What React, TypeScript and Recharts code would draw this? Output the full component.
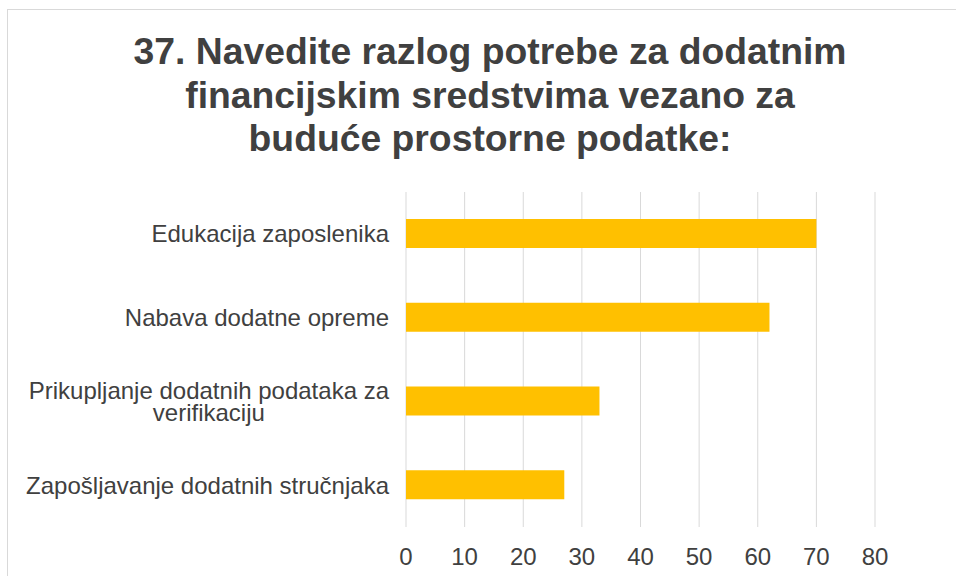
import React from "react";
import { BarChart, Bar, XAxis, YAxis, CartesianGrid } from "recharts";

const titleLines = [
  "37. Navedite razlog potrebe za dodatnim",
  "financijskim sredstvima vezano za",
  "buduće prostorne podatke:",
];
const categories = [
  "Edukacija zaposlenika",
  "Nabava dodatne opreme",
  "Prikupljanje dodatnih podataka za verifikaciju",
  "Zapošljavanje dodatnih stručnjaka",
];
const values = [70, 62, 33, 27];
const xTicks = [0, 10, 20, 30, 40, 50, 60, 70, 80];

const data = categories.map((name, i) => ({ name, value: values[i] }));

const FONT = '"Liberation Sans", Arial, sans-serif';
const TEXT = "#404040";
const LABEL_PX = 24;

let ctx: CanvasRenderingContext2D | null = null;
function measure(s: string): number {
  if (!ctx) {
    const c = document.createElement("canvas");
    ctx = c.getContext("2d");
  }
  if (!ctx) return s.length * LABEL_PX * 0.5;
  ctx.font = `${LABEL_PX}px ${FONT}`;
  return ctx.measureText(s).width;
}

function wrap(s: string, max: number): string[] {
  const words = s.split(" ");
  const lines: string[] = [];
  let cur = "";
  for (const w of words) {
    const t = cur ? cur + " " + w : w;
    if (cur && measure(t) > max) {
      lines.push(cur);
      cur = w;
    } else cur = t;
  }
  if (cur) lines.push(cur);
  return lines;
}

const YTick = (props: any) => {
  const { x, y, payload } = props;
  const lines = wrap(payload.value, 366);
  if (lines.length === 1) {
    return (
      <text x={x} y={y} dy="0.355em" textAnchor="end" fill={TEXT} fontSize={LABEL_PX} fontFamily={FONT}>
        {payload.value}
      </text>
    );
  }
  const w = Math.max(...lines.map(measure));
  const cx = x - w / 2;
  const lh = 22;
  const start = y - ((lines.length - 1) * lh) / 2 + LABEL_PX * 0.355;
  return (
    <text x={cx} y={start} textAnchor="middle" fill={TEXT} fontSize={LABEL_PX} fontFamily={FONT}>
      {lines.map((l, i) => (
        <tspan key={i} x={cx} dy={i === 0 ? 0 : lh}>
          {l}
        </tspan>
      ))}
    </text>
  );
};

const XTick = (props: any) => {
  const { x, y, payload } = props;
  return (
    <text x={x} y={y} dy="0.71em" textAnchor="middle" fill={TEXT} fontSize={LABEL_PX} fontFamily={FONT}>
      {payload.value}
    </text>
  );
};

export default function App() {
  return (
    <div style={{ position: "fixed", left: 0, top: 0, width: 956, height: 576, overflow: "hidden", background: "#fff" }}>
      <div
        style={{
          position: "absolute",
          left: 7,
          top: 9,
          width: 1000,
          height: 700,
          border: "1px solid #D9D9D9",
          boxSizing: "border-box",
        }}
      />
      <div
        style={{
          position: "absolute",
          left: 0,
          top: 30,
          width: 980,
          textAlign: "center",
          fontFamily: FONT,
          fontWeight: "bold",
          fontSize: 37.3,
          lineHeight: "43.5px",
          color: TEXT,
        }}
      >
        {titleLines.map((l, i) => (
          <div key={i}>{l}</div>
        ))}
      </div>
      <div style={{ position: "absolute", left: 0, top: 0 }}>
        <BarChart
          width={956}
          height={576}
          data={data}
          layout="vertical"
          margin={{ top: 192, right: 81, bottom: 0, left: 0 }}
        >
          <CartesianGrid horizontal={false} vertical={true} stroke="#D9D9D9" strokeWidth={1} />
          <XAxis
            type="number"
            domain={[0, 80]}
            ticks={xTicks}
            axisLine={false}
            tickLine={false}
            tickSize={0}
            tickMargin={21}
            height={49}
            tick={<XTick />}
            interval={0}
          />
          <YAxis
            type="category"
            dataKey="name"
            width={406}
            axisLine={false}
            tickLine={false}
            tickSize={0}
            tickMargin={17}
            tick={<YTick />}
            interval={0}
          />
          <Bar dataKey="value" fill="#FFC000" barSize={29} isAnimationActive={false} />
        </BarChart>
      </div>
    </div>
  );
}
